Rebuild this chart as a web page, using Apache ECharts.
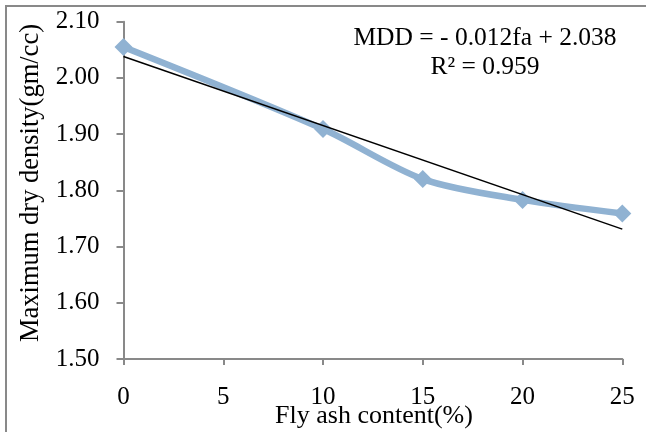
<!DOCTYPE html>
<html>
<head>
<meta charset="utf-8">
<script src="https://cdn.jsdelivr.net/npm/echarts@6/dist/echarts.min.js"></script>
<style>
html,body{margin:0;padding:0;background:#fff;}
#chart{width:646px;height:432px;}
</style>
</head>
<body>
<div id="chart"></div>
<script>
const flyAsh = [0, 10, 15, 20, 25];
const mdd = [2.055, 1.909, 1.820, 1.783, 1.759];
const trendX = [0, 25];
const trendY = [2.038, 1.731];
const xTicks = [0, 5, 10, 15, 20, 25];
const yTicks = [1.50, 1.60, 1.70, 1.80, 1.90, 2.00, 2.10];
const equationText = 'MDD = - 0.012fa + 2.038';
const r2Text = 'R² = 0.959';
const xTitle = 'Fly ash content(%)';
const yTitle = 'Maximum dry density(gm/cc)';

const font = '"Liberation Serif", "Times New Roman", serif';
const axisGray = '#898989';

const chart = echarts.init(document.getElementById('chart'), null, {renderer: 'canvas'});
chart.setOption({
  backgroundColor: '#ffffff',
  animation: false,
  grid: {left: 123.5, right: 23.7, top: 21.7, bottom: 73, containLabel: false, outerBoundsMode: 'none'},
  xAxis: {
    type: 'value',
    min: xTicks[0], max: xTicks[xTicks.length - 1], interval: 5,
    axisLine: {show: true, lineStyle: {color: axisGray, width: 2}},
    axisTick: {show: true, inside: false, length: 6, lineStyle: {color: axisGray, width: 2}},
    axisLabel: {fontFamily: font, fontSize: 25, color: '#000', margin: 26},
    splitLine: {show: false}
  },
  yAxis: {
    type: 'value',
    min: yTicks[0], max: yTicks[yTicks.length - 1], interval: 0.1,
    axisLine: {show: true, lineStyle: {color: axisGray, width: 2}},
    axisTick: {show: true, inside: false, length: 7, lineStyle: {color: axisGray, width: 2}},
    axisLabel: {fontFamily: font, fontSize: 25, color: '#000', margin: 24,
      formatter: v => v.toFixed(2)},
    splitLine: {show: false}
  },
  series: [
    {
      type: 'line',
      data: flyAsh.map((x, i) => [x, mdd[i]]),
      smooth: 0.3,
      symbol: 'diamond',
      symbolSize: 18,
      lineStyle: {color: '#90B2D2', width: 6.5},
      itemStyle: {color: '#90B2D2'},
      z: 2
    },
    {
      type: 'line',
      data: trendX.map((x, i) => [x, trendY[i]]),
      symbol: 'none',
      lineStyle: {color: '#000', width: 1.5},
      z: 3
    }
  ],
  graphic: [
    {type: 'rect', shape: {x: 6, y: 6, width: 720, height: 520},
     style: {fill: 'none', stroke: axisGray, lineWidth: 2}, silent: true},
    {type: 'text', x: 485, y: 38,
     style: {text: equationText, font: '25.5px ' + font, fill: '#000', align: 'center', verticalAlign: 'middle'}},
    {type: 'text', x: 485, y: 67,
     style: {text: r2Text, font: '25.5px ' + font, fill: '#000', align: 'center', verticalAlign: 'middle'}},
    {type: 'text', x: 374, y: 416,
     style: {text: xTitle, font: '26px ' + font, fill: '#000', align: 'center', verticalAlign: 'middle'}},
    {type: 'text', x: 31, y: 183, rotation: Math.PI / 2,
     style: {text: yTitle, font: '26.5px ' + font, fill: '#000', align: 'center', verticalAlign: 'middle'}}
  ]
});
</script>
</body>
</html>
